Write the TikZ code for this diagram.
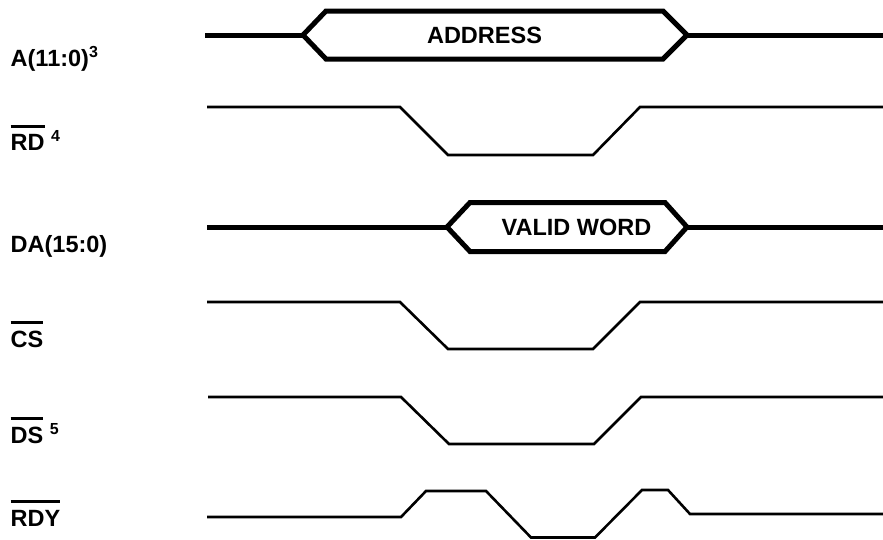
\documentclass[tikz,border=0pt]{standalone}
\usepackage{fontspec}
\setmainfont{Liberation Sans}
\usepackage{tikz}
\newsavebox\sigbox
\newcommand\ovsig[1]{\sbox\sigbox{#1}\rlap{\rule[23pt]{\wd\sigbox}{3pt}}\usebox\sigbox}
\newcommand\fnote[1]{{\fontsize{16}{19}\selectfont\raisebox{9pt}{#1}}}

\begin{document}
\begin{tikzpicture}[x=1pt,y=-1pt,
  bus/.style={line width=5pt},
  sig/.style={line width=2.6pt},
  lbl/.style={anchor=base west,inner sep=0pt,font=\fontsize{23.5}{28}\selectfont\bfseries},
  busval/.style={inner sep=0pt,font=\fontsize{23.5}{28}\selectfont\bfseries}]
  \useasboundingbox (0,0) rectangle (883,539);

  % signal names
  \node[lbl] (nameA) at (10.5,66.5) {A(11:0)\fnote{3}};
  \node[lbl] (nameRD) at (10.5,150.5) {\ovsig{RD} \fnote{4}};
  \node[lbl] (nameDA) at (10.5,252.5) {DA(15:0)};
  \node[lbl] (nameCS) at (10.5,347) {\ovsig{CS}};
  \node[lbl] (nameDS) at (10.5,443) {\ovsig{DS} \fnote{5}};
  \node[lbl] (nameRDY) at (10.5,526) {\ovsig{RDY}};

  % address bus
  \draw[bus] (205,35) -- (303,35);
  \draw[bus] (303,35) -- (326,11) -- (663,11) -- (687,35) -- (663,59) -- (326,59) -- cycle;
  \draw[bus] (687,35) -- (883,35);
  \node[busval] (valA) at (484.5,35) {ADDRESS};

  % read strobe
  \draw[sig] (207,107) -- (400,107) -- (448,155) -- (593,155) -- (640,107) -- (883,107);

  % data bus
  \draw[bus] (207,227) -- (447,227);
  \draw[bus] (447,227) -- (470,202.5) -- (665,202.5) -- (687,227) -- (665,251.5) -- (470,251.5) -- cycle;
  \draw[bus] (687,227) -- (883,227);
  \node[busval] (valDA) at (576.5,227) {VALID WORD};

  % chip select, data strobe
  \draw[sig] (207,302) -- (400,302) -- (448,349) -- (593,349) -- (640,302) -- (883,302);
  \draw[sig] (208,397) -- (401,397) -- (449,444) -- (594,444) -- (641,397) -- (883,397);

  % ready
  \draw[sig] (207,517) -- (401,517) -- (426,491) -- (486,491) -- (531,537.5) -- (595,537.5)
    -- (642,490) -- (668,490) -- (690,514) -- (883,514);
\end{tikzpicture}
\end{document}
